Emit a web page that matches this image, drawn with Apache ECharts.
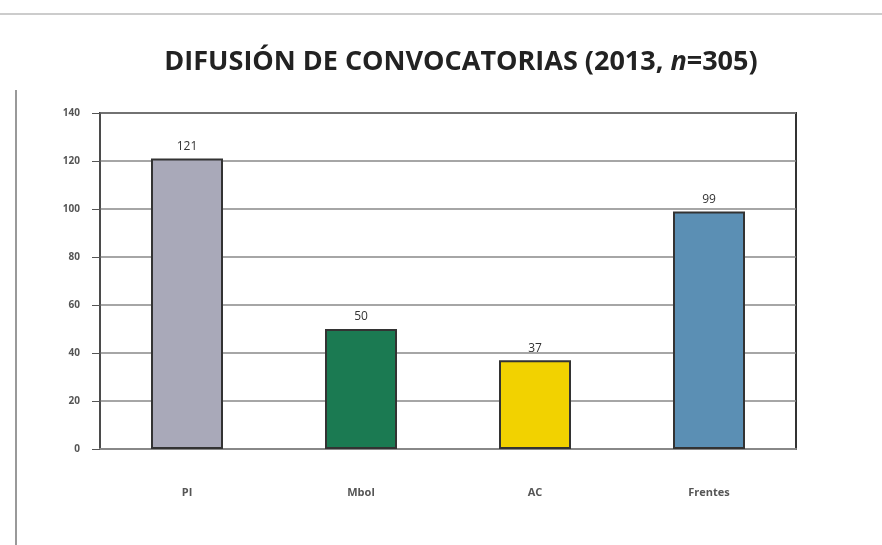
<!DOCTYPE html>
<html><head><meta charset="utf-8">
<script src="https://cdn.jsdelivr.net/npm/echarts@6/dist/echarts.min.js"></script>
<style>html,body{margin:0;padding:0;background:#fff}#c{width:882px;height:545px}</style>
</head><body><div id="c"></div>
<script>
const categories = ["PI", "Mbol", "AC", "Frentes"];
const values = [121, 50, 37, 99];
const barColors = ["#a9a9b9", "#1b7a52", "#f2d200", "#5b8fb4"];
const yTicks = [0, 20, 40, 60, 80, 100, 120, 140];

const chart = echarts.init(document.getElementById('c'));
chart.setOption({
  backgroundColor: '#fff',
  title: {
    text: '{a|DIFUSIÓN DE CONVOCATORIAS (2013, }{i|n}{a|=305)}',
    left: 456, top: 44, textAlign: 'center',
    textStyle: {
      rich: {
        a: {fontFamily: 'Open Sans', fontWeight: 'bold', fontSize: 27, color: '#222'},
        i: {fontFamily: 'Open Sans', fontWeight: 'bold', fontStyle: 'italic', fontSize: 27, color: '#222'}
      }
    }
  },
  graphic: [
    {type: 'line', shape: {x1: 16, y1: 90, x2: 16, y2: 545}, style: {stroke: '#999', lineWidth: 2}},
    {type: 'line', shape: {x1: 0, y1: 14, x2: 882, y2: 14}, style: {stroke: '#ccc', lineWidth: 2}}
  ],
  grid: {left: 100, right: 86, top: 113, bottom: 96, show: true, borderColor: '#333', borderWidth: 2},
  xAxis: {
    type: 'category', data: categories,
    axisLine: {lineStyle: {color: '#888', width: 2}},
    axisTick: {show: false},
    axisLabel: {margin: 38, fontSize: 11, fontWeight: 'bold', color: '#555', fontFamily: 'Open Sans'}
  },
  yAxis: {
    type: 'value', min: 0, max: 140, interval: 20,
    axisLine: {show: true, lineStyle: {color: '#555', width: 1.5}},
    axisTick: {show: true, inside: false, length: 8, lineStyle: {color: '#555'}},
    axisLabel: {margin: 20, fontSize: 10, fontWeight: 'bold', color: '#555', fontFamily: 'Open Sans',
      formatter: v => yTicks.includes(v) ? String(v) : ''},
    splitLine: {lineStyle: {color: '#888', width: 1.5}}
  },
  series: [{
    type: 'bar', barWidth: 72,
    data: values.map((v, i) => ({value: v, itemStyle: {color: barColors[i]}})),
    itemStyle: {borderColor: '#333', borderWidth: 2},
    label: {show: true, position: 'top', distance: 6, fontSize: 12, color: '#333', fontFamily: 'Open Sans'}
  }]
});
</script></body></html>
